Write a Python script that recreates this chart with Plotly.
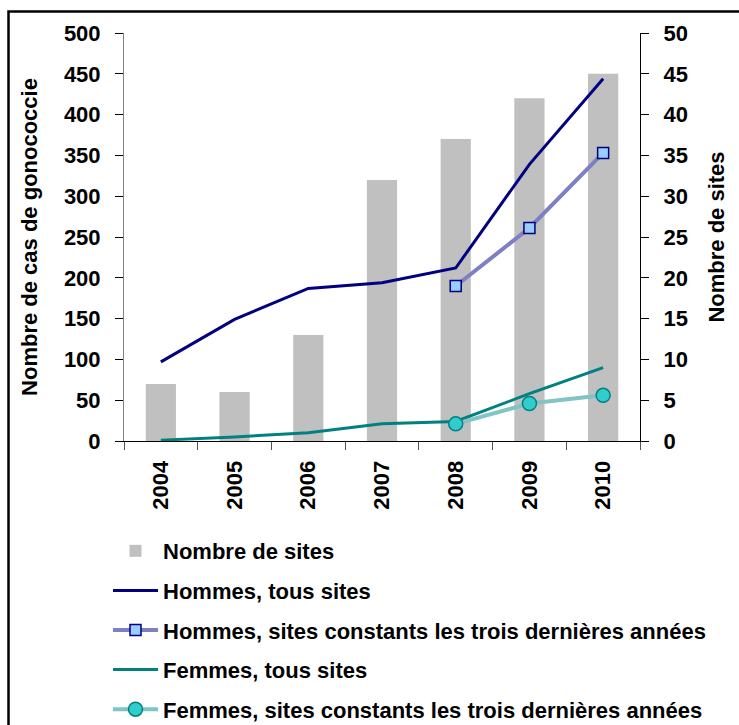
import plotly.graph_objects as go

years = ["2004", "2005", "2006", "2007", "2008", "2009", "2010"]
nb_sites = [7, 6, 13, 32, 37, 42, 45]
hommes_tous = [97, 149, 187, 194, 212, 339, 444]
hommes_const = [None, None, None, None, 190, 261, 353]
femmes_tous = [1, 5, 10, 21, 24, 58, 90]
femmes_const = [None, None, None, None, 21, 46, 56]

FONT = "Liberation Sans"
W, H = 739, 725
L, R, T, B = 124, 99, 33, 284
pw, ph = W - L - R, H - T - B

def px(x):
    return (x - L) / pw

def py(y):
    return (H - B - y) / ph

fig = go.Figure()
fig.add_trace(go.Bar(x=years, y=nb_sites, name="Nombre de sites",
                     marker=dict(color="#C0C0C0", line=dict(width=0)),
                     yaxis="y", legendgroup="a"))
fig.add_trace(go.Scatter(x=years, y=hommes_tous, name="Hommes, tous sites",
                         mode="lines", line=dict(color="#000080", width=3),
                         yaxis="y2", legendgroup="b"))
fig.add_trace(go.Scatter(x=years, y=hommes_const,
                         name="Hommes, sites constants les trois dernières années",
                         mode="lines+markers",
                         line=dict(color="#7F7FC4", width=4),
                         marker=dict(symbol="square", size=11, color="#99CCFF",
                                     line=dict(color="#000080", width=1.5)),
                         yaxis="y2", legendgroup="c"))
fig.add_trace(go.Scatter(x=years, y=femmes_tous, name="Femmes, tous sites",
                         mode="lines", line=dict(color="#008080", width=3),
                         yaxis="y2", legendgroup="d"))
fig.add_trace(go.Scatter(x=years, y=femmes_const,
                         name="Femmes, sites constants les trois dernières années",
                         mode="lines+markers",
                         line=dict(color="#80C4C4", width=4),
                         marker=dict(symbol="circle", size=14, color="#33CCCC",
                                     line=dict(color="#008080", width=1.5)),
                         yaxis="y2", legendgroup="e"))

tickfont = dict(family=FONT, size=22, color="black", weight="bold")
titlefont = dict(family=FONT, size=22, color="black", weight="bold")
fig.update_layout(
    width=W, height=H,
    margin=dict(l=L, r=R, t=T, b=B, autoexpand=False),
    paper_bgcolor="white", plot_bgcolor="white",
    bargap=0.59,
    showlegend=True,
    font=dict(family=FONT, color="black"),
    xaxis=dict(type="category", tickangle=-90, tickfont=tickfont,
               showline=True, linecolor="black", linewidth=1,
               ticks="outside", ticklen=8, tickcolor="#555", tickson="boundaries",
               ticklabelstandoff=10,
               showgrid=False, zeroline=False),
    yaxis=dict(side="right", range=[0, 50], dtick=5, tickfont=tickfont,
               showline=True, linecolor="black", linewidth=1,
               ticks="outside", ticklen=8, tickcolor="black",
               ticklabelstandoff=10,
               showgrid=False, zeroline=False,
               title=dict(text="Nombre de sites", standoff=21, font=titlefont)),
    yaxis2=dict(side="left", overlaying="y", range=[0, 500], dtick=50,
                tickfont=tickfont,
                showline=True, linecolor="#808080", linewidth=1,
                ticks="outside", ticklen=8, tickcolor="black",
                ticklabelstandoff=10,
                showgrid=False, zeroline=False,
                title=dict(text="Nombre de cas de gonococcie", standoff=20,
                           font=titlefont)),
    legend=dict(x=px(108), y=py(530), xanchor="left", yanchor="top",
                orientation="v", bgcolor="rgba(0,0,0,0)",
                font=dict(family=FONT, size=22, color="black", weight="bold"),
                traceorder="grouped", itemwidth=45, tracegroupgap=8),
    shapes=[dict(type="rect", xref="paper", yref="paper",
                 x0=px(8.5), x1=px(760), y0=py(760), y1=py(11.5),
                 line=dict(color="black", width=2.5), fillcolor="rgba(0,0,0,0)",
                 layer="below")],
)

fig.write_html("out.html", config={"displayModeBar": False},
               post_script="document.body.style.margin='0px';")
